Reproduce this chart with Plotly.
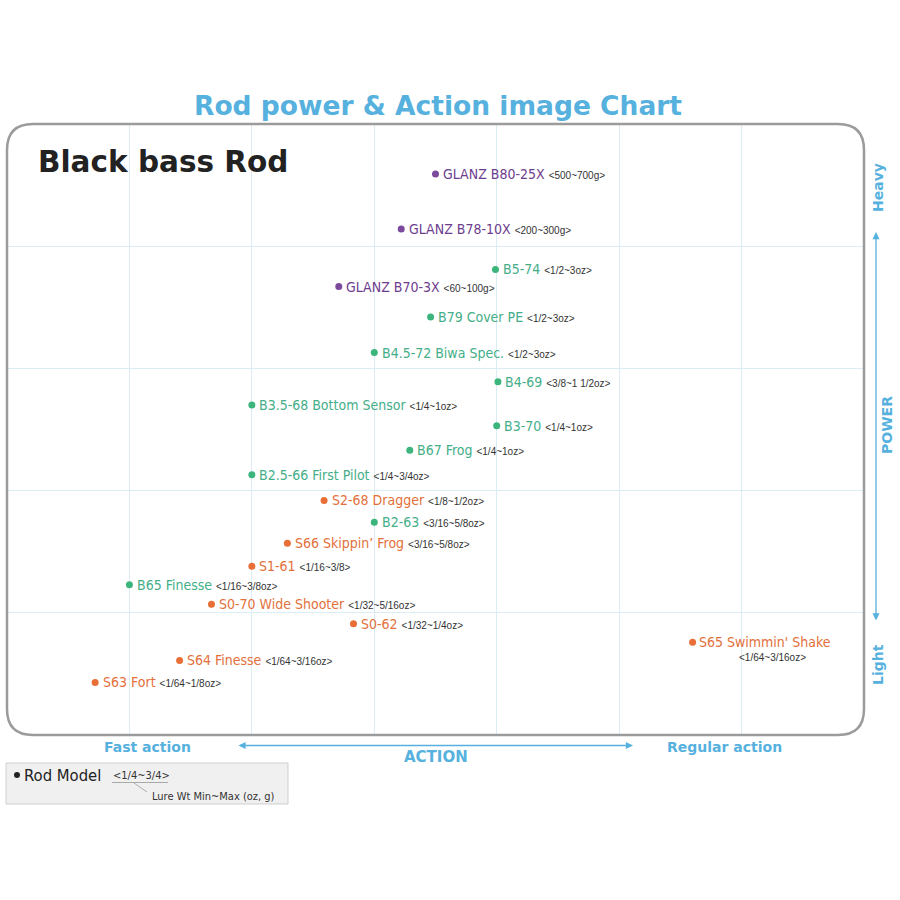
import plotly.graph_objects as go

# ---------------- data ----------------
models = [
    "GLANZ B80-25X", "GLANZ B78-10X", "B5-74", "GLANZ B70-3X", "B79 Cover PE",
    "B4.5-72 Biwa Spec.", "B4-69", "B3.5-68 Bottom Sensor", "B3-70", "B67 Frog",
    "B2.5-66 First Pilot", "S2-68 Dragger", "B2-63", "S66 Skippin’ Frog", "S1-61",
    "B65 Finesse", "S0-70 Wide Shooter", "S0-62", "S65 Swimmin' Shake",
    "S64 Finesse", "S63 Fort",
]
action = [3.50, 3.22, 3.99, 2.71, 3.46, 3.00, 4.01, 2.00, 4.00, 3.29,
          2.00, 2.59, 3.00, 2.29, 2.00, 1.00, 1.67, 2.83, 5.60, 1.41, 0.72]
power = [4.59, 4.14, 3.81, 3.67, 3.42, 3.13, 2.89, 2.70, 2.53, 2.33,
         2.13, 1.92, 1.74, 1.57, 1.38, 1.23, 1.07, 0.91, 0.76, 0.61, 0.43]
lure_wt = ["500~700g", "200~300g", "1/2~3oz", "60~100g", "1/2~3oz",
           "1/2~3oz", "3/8~1 1/2oz", "1/4~1oz", "1/4~1oz", "1/4~1oz",
           "1/4~3/4oz", "1/8~1/2oz", "3/16~5/8oz", "3/16~5/8oz", "1/16~3/8",
           "1/16~3/8oz", "1/32~5/16oz", "1/32~1/4oz", "1/64~3/16oz",
           "1/64~3/16oz", "1/64~1/8oz"]
series = ["GLANZ", "GLANZ", "B", "GLANZ", "B", "B", "B", "B", "B", "B",
          "B", "S", "B", "S", "S", "B", "S", "S", "S", "S", "S"]

series_names = ["GLANZ", "B", "S"]
dot_colors = {"GLANZ": "#7b4a9d", "B": "#3cb57d", "S": "#e86f38"}
text_colors = {"GLANZ": "#6d3d8e", "B": "#44ae88", "S": "#e3703b"}

x_ticks = [0, 1, 2, 3, 4, 5, 6, 7]
y_ticks = [0, 1, 2, 3, 4, 5]

# ---------------- layout geometry (pixels) ----------------
W, H = 900, 900
ML, MR, MT, MB = 7, 36, 124, 165
PW, PH = W - ML - MR, H - MT - MB


def px(xp):
    return (xp - ML) / PW


def py(yp):
    return (H - MB - yp) / PH


NAME_FONT = "Liberation Sans Narrow, DejaVu Sans Condensed, Roboto Condensed, Arial Narrow, Liberation Sans"
HEAD_FONT = "DejaVu Sans"
BLUE = "#56b1de"

fig = go.Figure()

for s in series_names:
    idx = [i for i, v in enumerate(series) if v == s]
    fig.add_trace(go.Scatter(
        x=[action[i] for i in idx], y=[power[i] for i in idx],
        mode="markers", marker=dict(size=7, color=dot_colors[s]),
        hoverinfo="skip", showlegend=False, cliponaxis=False,
    ))

annotations = []
for i, m in enumerate(models):
    c = text_colors[series[i]]
    wt = ("<span style='font-size:10px;color:#333333;font-family:Liberation Sans, Arial'>"
          f"&lt;{lure_wt[i]}&gt;</span>")
    if m.startswith("S65"):
        annotations.append(dict(x=action[i], y=power[i], xref="x", yref="y",
                                text=m, showarrow=False, xanchor="left", yanchor="middle",
                                xshift=4, font=dict(family=NAME_FONT, size=14, color=c)))
        annotations.append(dict(x=action[i], y=power[i], xref="x", yref="y",
                                text=wt, showarrow=False, xanchor="left", yanchor="middle",
                                xshift=44, yshift=-15, font=dict(family=NAME_FONT, size=10, color="#333")))
    else:
        annotations.append(dict(x=action[i], y=power[i], xref="x", yref="y",
                                text=f"{m} {wt}", showarrow=False, xanchor="left", yanchor="middle",
                                xshift=5.5, font=dict(family=NAME_FONT, size=14, color=c)))

# titles
annotations.append(dict(x=px(438), y=py(106), xref="paper", yref="paper",
                        text="<b>Rod power &amp; Action image Chart</b>", showarrow=False,
                        xanchor="center", yanchor="middle",
                        font=dict(family=HEAD_FONT, size=26.5, color=BLUE)))
annotations.append(dict(x=px(36), y=py(162), xref="paper", yref="paper",
                        text="<b>Black bass Rod</b>", showarrow=False,
                        xanchor="left", yanchor="middle",
                        font=dict(family=HEAD_FONT, size=29.5, color="#222222")))

# axis labels
ax_font = dict(family=HEAD_FONT, size=14, color=BLUE)
annotations += [
    dict(x=px(147), y=py(747), text="<b>Fast action</b>", font=ax_font),
    dict(x=px(724), y=py(747), text="<b>Regular action</b>", font=ax_font),
    dict(x=px(436), y=py(757), text="<b>ACTION</b>", font=dict(family=HEAD_FONT, size=15, color=BLUE)),
    dict(x=px(878), y=py(188), text="<b>Heavy</b>", textangle=-90, font=ax_font),
    dict(x=px(887), y=py(425), text="<b>POWER</b>", textangle=-90, font=ax_font),
    dict(x=px(878), y=py(665), text="<b>Light</b>", textangle=-90, font=ax_font),
]
for a in annotations[-6:]:
    a.update(xref="paper", yref="paper", showarrow=False, xanchor="center", yanchor="middle")

# double arrows
annotations.append(dict(x=px(633), y=py(745.5), xref="paper", yref="paper", text="",
                        showarrow=True, ax=-(633 - 237), ay=0, arrowside="end+start",
                        arrowhead=2, arrowsize=1.1, arrowwidth=1.3, arrowcolor=BLUE))
annotations.append(dict(x=px(876), y=py(232), xref="paper", yref="paper", text="",
                        showarrow=True, ax=0, ay=(622 - 232), arrowside="end+start",
                        arrowhead=2, arrowsize=1.1, arrowwidth=1.3, arrowcolor=BLUE))

# legend texts
annotations.append(dict(x=px(22), y=py(775), xref="paper", yref="paper", text="Rod Model",
                        showarrow=False, xanchor="left", yanchor="middle",
                        font=dict(family=NAME_FONT, size=16.5, color="#222")))
annotations.append(dict(x=px(111), y=py(775), xref="paper", yref="paper", text="&lt;1/4~3/4&gt;",
                        showarrow=False, xanchor="left", yanchor="middle",
                        font=dict(family=NAME_FONT, size=11, color="#333")))
annotations.append(dict(x=px(150), y=py(796), xref="paper", yref="paper", text="Lure Wt Min~Max (oz, g)",
                        showarrow=False, xanchor="left", yanchor="middle",
                        font=dict(family=NAME_FONT, size=11, color="#333")))

# rounded border
rx, ry = 26 / PW, 26 / PH
path = (f"M {rx} 1 L {1 - rx} 1 Q 1 1 1 {1 - ry} L 1 {ry} Q 1 0 {1 - rx} 0 "
        f"L {rx} 0 Q 0 0 0 {ry} L 0 {1 - ry} Q 0 1 {rx} 1 Z")
shapes = [
    dict(type="path", path=path, xref="paper", yref="paper",
         line=dict(color="#9b9b9b", width=2.5), layer="above"),
    dict(type="rect", x0=px(6), x1=px(288), y0=py(763), y1=py(804), xref="paper", yref="paper",
         fillcolor="#f0f0f0", line=dict(color="#cfcfcf", width=1), layer="below"),
    dict(type="circle", x0=px(14), x1=px(20), y0=py(778), y1=py(772), xref="paper", yref="paper",
         fillcolor="#222", line=dict(width=0)),
    dict(type="line", x0=px(112), x1=px(168), y0=py(782.5), y1=py(782.5), xref="paper", yref="paper",
         line=dict(color="#aaaaaa", width=1)),
    dict(type="line", x0=px(134), x1=px(147), y0=py(783), y1=py(792), xref="paper", yref="paper",
         line=dict(color="#999999", width=0.8)),
]

fig.update_layout(
    width=W, height=H,
    margin=dict(l=ML, r=MR, t=MT, b=MB),
    paper_bgcolor="white", plot_bgcolor="white",
    xaxis=dict(range=[0, 7], tickvals=x_ticks, showticklabels=False, showgrid=True,
               gridcolor="#dbedf4", gridwidth=1, zeroline=False, showline=False, fixedrange=True),
    yaxis=dict(range=[0, 5], tickvals=y_ticks, showticklabels=False, showgrid=True,
               gridcolor="#dbedf4", gridwidth=1, zeroline=False, showline=False, fixedrange=True),
    annotations=annotations, shapes=shapes, showlegend=False,
)

fig.write_html("out.html", config={"displayModeBar": False},
               post_script="document.body.style.margin='0';")
